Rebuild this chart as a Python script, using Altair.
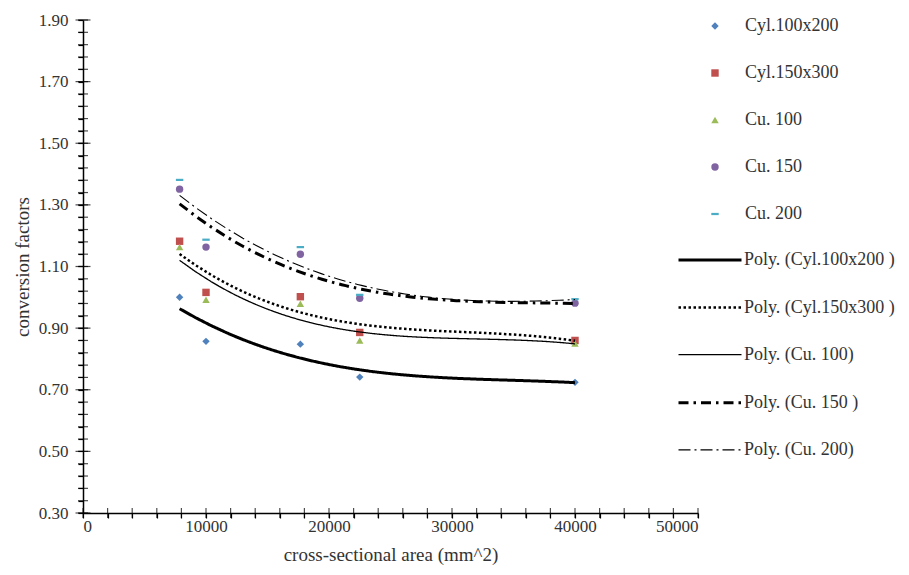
import altair as alt
import pandas as pd

# ---- data ----
areas = [7854, 10000, 17671, 22500, 40000]
series_names = ["Cyl.100x200", "Cyl.150x300", "Cu. 100", "Cu. 150", "Cu. 200"]
trend_names = ["Poly. (Cyl.100x200 )", "Poly. (Cyl.150x300 )", "Poly. (Cu. 100)",
               "Poly. (Cu. 150 )", "Poly. (Cu. 200)"]
cyl_100x200 = [1.000, 0.857, 0.848, 0.741, 0.724]
cyl_150x300 = [1.182, 1.016, 1.002, 0.886, 0.860]
cu_100 = [1.163, 0.992, 0.979, 0.860, 0.850]
cu_150 = [1.351, 1.163, 1.140, 0.997, 0.981]
cu_200 = [1.381, 1.187, 1.163, 1.008, 0.994]
y_tick_values = [round(0.30 + 0.04 * i, 2) for i in range(41)]
y_major_values = [round(0.30 + 0.20 * i, 2) for i in range(9)]
x_tick_values = list(range(0, 50001, 2000))

all_values = [cyl_100x200, cyl_150x300, cu_100, cu_150, cu_200]
rows = []
for s, t, vals in zip(series_names, trend_names, all_values):
    for a, v in zip(areas, vals):
        rows.append({"series": s, "trend": t, "area": a, "cf": v})
df = pd.DataFrame(rows)
ytick_df = pd.DataFrame({"cf": y_tick_values})
ymajor_df = pd.DataFrame({"cf": y_major_values})
xtick_df = pd.DataFrame({"area": x_tick_values})

# ---- styles ----
W, H = 615, 493
FONT = "Liberation Serif"
TXT = "#333333"
point_colors = ["#4F81BD", "#C0504D", "#9BBB59", "#8064A2", "#4BACC6"]
point_shapes = ["diamond", "square", "triangle-up", "circle", "M-1,-0.3L1,-0.3L1,0.3L-1,0.3Z"]
line_dashes = [[1, 0], [2.5, 2.5], [1, 0], [10, 5, 2.5, 5], [12, 4, 2, 4]]
line_widths = [3, 2.5, 1.3, 3, 1.1]

y_major = "(round(datum.value*100) - 30) % 20 === 0"
x_major = "datum.value % 10000 === 0"

common_axis = dict(grid=False, domainColor="black", domainWidth=1.5,
                   tickColor="black", tickWidth=1.2, tickSize=5)

x_axis = alt.Axis(
    values=x_tick_values, labelExpr=f"{x_major} ? format(datum.value, 'd') : ''",
    labelPadding=0, labelOverlap=False,
    labelFont=FONT, labelFontSize=17, labelColor=TXT,
    titleFont=FONT, titleFontSize=19, titleFontWeight="normal", titleColor=TXT, titlePadding=11,
    **common_axis,
)
y_axis = alt.Axis(
    values=y_tick_values, labelExpr=f"{y_major} ? format(datum.value, '.2f') : ''",
    labelPadding=10, labelOverlap=False,
    labelFont=FONT, labelFontSize=17, labelColor=TXT,
    titleFont=FONT, titleFontSize=19, titleFontWeight="normal", titleColor=TXT, titlePadding=6,
    **common_axis,
)

x_scale = alt.Scale(domain=[0, 50000], nice=False)
y_scale = alt.Scale(domain=[0.3, 1.9], nice=False, zero=False)
X_TITLE = "cross-sectional area (mm^2)"
Y_TITLE = "conversion factors"

pt_legend = alt.Legend(
    title=None, orient="none", legendX=623, legendY=-3, padding=0,
    symbolSize=55, labelOffset=21, rowPadding=29,
    labelFont=FONT, labelFontSize=18, labelColor=TXT,
)
ln_legend = alt.Legend(
    title=None, orient="none", legendX=594, legendY=207, padding=0,
    symbolSize=3969, symbolType="stroke", symbolStrokeColor="black", labelOffset=1, rowPadding=5.6,
    labelFont=FONT, labelFontSize=18, labelColor=TXT,
)

points = alt.Chart(df).mark_point(filled=True, opacity=1, size=55).encode(
    x=alt.X("area:Q", scale=x_scale, axis=x_axis, title=X_TITLE),
    y=alt.Y("cf:Q", scale=y_scale, axis=y_axis, title=Y_TITLE),
    color=alt.Color("series:N", scale=alt.Scale(domain=series_names, range=point_colors), legend=pt_legend),
    shape=alt.Shape("series:N", scale=alt.Scale(domain=series_names, range=point_shapes), legend=pt_legend),
)

trends = alt.Chart(df).transform_regression(
    "area", "cf", method="poly", order=3, groupby=["series", "trend"]
).mark_line(color="black").encode(
    x=alt.X("area:Q", scale=x_scale, axis=x_axis, title=X_TITLE),
    y=alt.Y("cf:Q", scale=y_scale, axis=y_axis, title=Y_TITLE),
    strokeDash=alt.StrokeDash("trend:N", scale=alt.Scale(domain=trend_names, range=line_dashes),
                              legend=ln_legend),
    strokeWidth=alt.StrokeWidth("trend:N", sort=trend_names,
                                scale=alt.Scale(type="ordinal", domain=trend_names, range=line_widths),
                                legend=ln_legend),
)

# crossing tick marks centred on the axis lines
y_ticks = alt.Chart(ytick_df).mark_tick(color="black", size=10, thickness=1.2).encode(
    y=alt.Y("cf:Q", scale=y_scale, axis=y_axis, title=Y_TITLE), x=alt.value(0))
y_major_ticks = alt.Chart(ymajor_df).mark_tick(color="black", size=15, thickness=1.2).encode(
    y=alt.Y("cf:Q", scale=y_scale, axis=y_axis, title=Y_TITLE), x=alt.value(0))
x_ticks = alt.Chart(xtick_df).mark_tick(color="black", size=10, thickness=1.2).encode(
    x=alt.X("area:Q", scale=x_scale, axis=x_axis, title=X_TITLE), y=alt.value(H))

chart = alt.layer(y_ticks, y_major_ticks, x_ticks, points, trends).properties(
    width=W, height=H, background="white",
    padding={"left": 5, "top": 3, "right": 0, "bottom": 5},
).configure_view(strokeWidth=0, stroke=None)

chart.save("out.html", embed_options={"renderer": "svg", "actions": False})
